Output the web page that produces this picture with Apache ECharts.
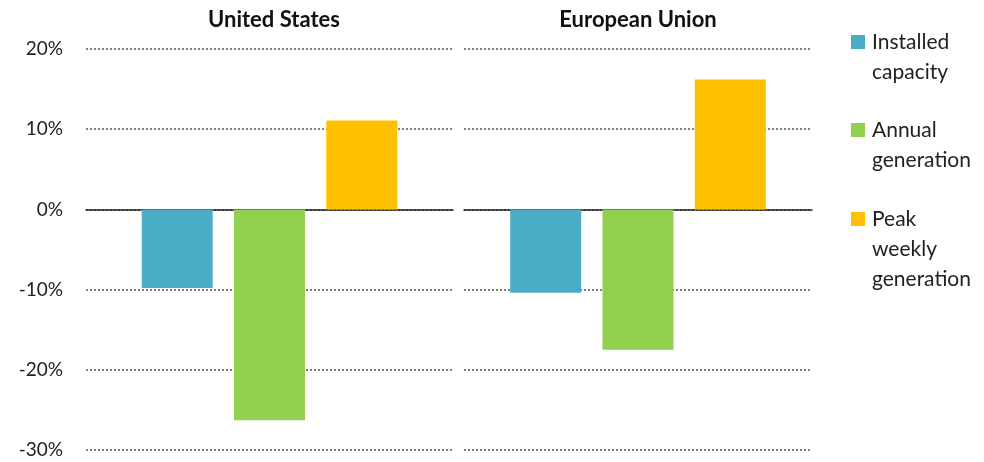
<!DOCTYPE html>
<html>
<head>
<meta charset="utf-8">
<script src="https://cdn.jsdelivr.net/npm/echarts@6/dist/echarts.min.js"></script>
<style>
  html, body { margin: 0; padding: 0; background: #fff; }
  #chart { width: 984px; height: 462px; }
</style>
</head>
<body>
<div id="chart"></div>
<script>
// values in percent
const regions = ['United States', 'European Union']
const seriesNames = ['Installed capacity', 'Annual generation', 'Peak weekly generation']
const legendLabels = ['Installed\ncapacity', 'Annual\ngeneration', 'Peak\nweekly\ngeneration']
const installedCapacity = [-9.8, -10.4]
const annualGeneration = [-26.3, -17.5]
const peakWeeklyGeneration = [11.1, 16.2]
const colors = ['#4BACC6', '#92D050', '#FFC000']

const font = 'Lato'
const values = [installedCapacity, annualGeneration, peakWeeklyGeneration]

const chart = echarts.init(document.getElementById('chart'))

const grids = [
  { left: 86, width: 367, top: 49, height: 401 },
  { left: 464, width: 348, top: 49, height: 401 },
]

const xAxes = regions.map((r, i) => ({
  type: 'category',
  gridIndex: i,
  data: [r],
  axisTick: { show: false },
  axisLabel: { show: false },
  axisLine: { onZero: true, lineStyle: { color: '#222', width: 1.5 } },
}))

const yAxes = regions.map((r, i) => ({
  type: 'value',
  gridIndex: i,
  min: -30,
  max: 20,
  interval: 10,
  axisLine: { show: false },
  axisTick: { show: false },
  axisLabel: {
    show: i === 0,
    formatter: '{value}%',
    fontFamily: font,
    fontSize: 19,
    color: '#222',
    margin: 23,
  },
  splitLine: {
    lineStyle: { color: '#808080', type: [2, 2], width: 2 },
  },
}))

const series = []
regions.forEach((r, i) => {
  seriesNames.forEach((name, k) => {
    series.push({
      name,
      type: 'bar',
      xAxisIndex: i,
      yAxisIndex: i,
      barWidth: 71,
      barGap: '30%',
      itemStyle: { color: colors[k] },
      data: [values[k][i]],
    })
  })
})

// one legend per entry; leading blank lines keep the icon on the first text line
const legendTops = [-3, 85, 144]
const legends = seriesNames.map((name, k) => {
  const lines = legendLabels[k].split('\n')
  const label = '\n'.repeat(lines.length - 1) + legendLabels[k]
  return {
    left: 851,
    top: legendTops[k],
    padding: 0,
    orient: 'vertical',
    icon: 'rect',
    itemWidth: 14,
    itemHeight: 14,
    itemGap: 0,
    selectedMode: false,
    formatter: () => label,
    textStyle: {
      fontFamily: font,
      fontSize: 21,
      color: '#222',
      lineHeight: 30,
      padding: [0, 0, 0, 2],
    },
    data: [name],
  }
})

const option = {
  animation: false,
  title: [
    { text: regions[0], left: 269, top: 4, textAlign: 'center',
      textStyle: { fontFamily: font, fontSize: 22, fontWeight: 'bold', color: '#111' } },
    { text: regions[1], left: 633, top: 4, textAlign: 'center',
      textStyle: { fontFamily: font, fontSize: 22, fontWeight: 'bold', color: '#111' } },
  ],
  legend: legends,
  grid: grids,
  xAxis: xAxes,
  yAxis: yAxes,
  series,
}

chart.setOption(option)
</script>
</body>
</html>
